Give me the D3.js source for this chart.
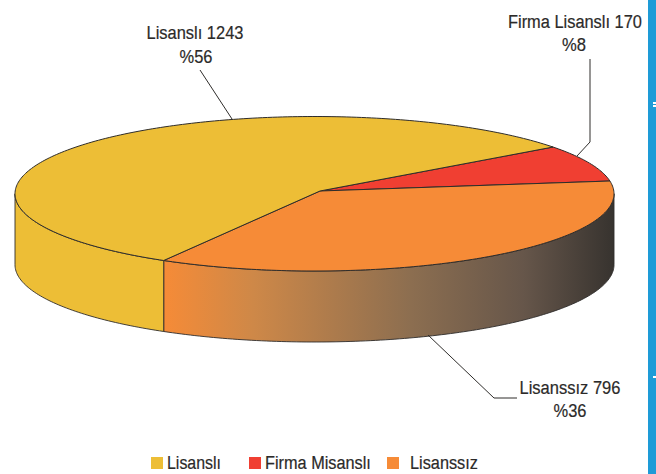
<!DOCTYPE html>
<html><head><meta charset="utf-8">
<script src="https://cdnjs.cloudflare.com/ajax/libs/d3/7.8.5/d3.min.js"></script>
<style>html,body{margin:0;padding:0;background:#fff;overflow:hidden}svg{display:block}text{font-family:"Liberation Sans",sans-serif;fill:#2b2a29;stroke:#2b2a29;stroke-width:.2}</style>
</head><body><div id="c"></div>
<script>
const categories = ["Firma Misanslı", "Lisanssız", "Lisanslı"];
const values = [170, 796, 1243];
const percents = [8, 36, 56];
const colors = ["#F03F32", "#F68B37", "#EDBE36"];
const legendOrder = ["Lisanslı", "Firma Misanslı", "Lisanssız"];

const W = 656, H = 474;
const cx = 314.5, cy = 193.75, rx = 299.5, ry = 77.25, depth = 71;
const apex = [320, 191];
const svg = d3.select("#c").append("svg").attr("width", W).attr("height", H);
const defs = svg.append("defs");
const grad = defs.append("linearGradient").attr("id", "side").attr("gradientUnits", "userSpaceOnUse")
  .attr("x1", 163).attr("x2", 614).attr("y1", 0).attr("y2", 0);
[[0, "#F68B37"], [0.2, "#CE8848"], [0.55, "#8C6E50"], [0.8, "#66564A"], [1, "#37332F"]]
  .forEach(([o, c]) => grad.append("stop").attr("offset", o).attr("stop-color", c));

const start = 52.8 * Math.PI / 180;
const pie = d3.pie().sort(null).startAngle(start).endAngle(start + 2 * Math.PI);
const arcs = pie(values);
const px = d3.scaleLinear().domain([-1, 1]).range([cx - rx, cx + rx]);
const py = d3.scaleLinear().domain([-1, 1]).range([cy - ry, cy + ry]);
const pt = (a, dz = 0) => [px(Math.sin(a)), py(-Math.cos(a)) + dz];
const line = d3.line();
const samples = (a0, a1, dz = 0) => {
  const n = Math.max(2, Math.ceil(Math.abs(a1 - a0) * 60));
  return d3.range(n + 1).map(i => pt(a0 + (a1 - a0) * i / n, dz));
};
const stroke = "#2f2d2b";

// visible side walls: front half of the ellipse (d3 angles PI/2 .. 3PI/2)
const walls = [
  { a0: Math.PI / 2, a1: arcs[1].endAngle, fill: "url(#side)" },
  { a0: arcs[1].endAngle, a1: 3 * Math.PI / 2, fill: colors[2] }
];
walls.forEach(w => {
  const top = samples(w.a0, w.a1), bot = samples(w.a1, w.a0, depth);
  svg.append("path").attr("d", line(top.concat(bot)) + "Z").attr("fill", w.fill)
    .attr("stroke", stroke).attr("stroke-width", 0.9).attr("stroke-linejoin", "round");
});

// top slices
arcs.forEach((d, i) => {
  const rim = samples(d.startAngle, d.endAngle);
  svg.append("path").attr("d", line([apex].concat(rim)) + "Z").attr("fill", colors[i])
    .attr("stroke", stroke).attr("stroke-width", 1).attr("stroke-linejoin", "round");
});

// leader lines
[
  [[200, 70], [232, 119]],
  [[590, 59], [590, 142], [577, 156]],
  [[428, 335], [494, 398], [517, 398]]
].forEach(p => svg.append("path").attr("d", line(p)).attr("fill", "none").attr("stroke", stroke).attr("stroke-width", 1));

// text squeezed horizontally to the narrow face of the reference
function putText(t, left, y, w) {
  const el = svg.append("text").attr("font-size", 19).text(t);
  const nat = el.node().getComputedTextLength();
  el.attr("transform", `translate(${left},${y}) scale(${w / nat},1)`);
}

// labels
const labels = [
  { t: `Lisanslı ${values[2]}`, x: 195, y: 39, w: 97 },
  { t: `%${percents[2]}`, x: 196, y: 63, w: 33 },
  { t: `Firma Lisanslı ${values[0]}`, x: 575, y: 28, w: 134 },
  { t: `%${percents[0]}`, x: 574, y: 51, w: 24 },
  { t: `Lisanssız ${values[1]}`, x: 570, y: 394, w: 101 },
  { t: `%${percents[1]}`, x: 570, y: 417, w: 33 }
];
labels.forEach(l => putText(l.t, l.x - l.w / 2, l.y, l.w));

// legend
const legendLayout = [
  { sx: 151, tx: 167, w: 54 },
  { sx: 249, tx: 265, w: 106 },
  { sx: 387, tx: 410, w: 68 }
];
legendOrder.forEach((name, i) => {
  const L = legendLayout[i];
  svg.append("rect").attr("x", L.sx).attr("y", 457).attr("width", 12).attr("height", 12)
    .attr("fill", colors[categories.indexOf(name)]);
  putText(name, L.tx, 469, L.w);
});

// page edge band
svg.append("rect").attr("x", 648).attr("y", 0).attr("width", 8).attr("height", H).attr("fill", "#1E9BD7");
[[653, 102, 3, 2], [653, 105, 3, 2], [653, 376, 3, 2]].forEach(r =>
  svg.append("rect").attr("x", r[0]).attr("y", r[1]).attr("width", r[2]).attr("height", r[3]).attr("fill", "#fff"));
</script></body></html>
